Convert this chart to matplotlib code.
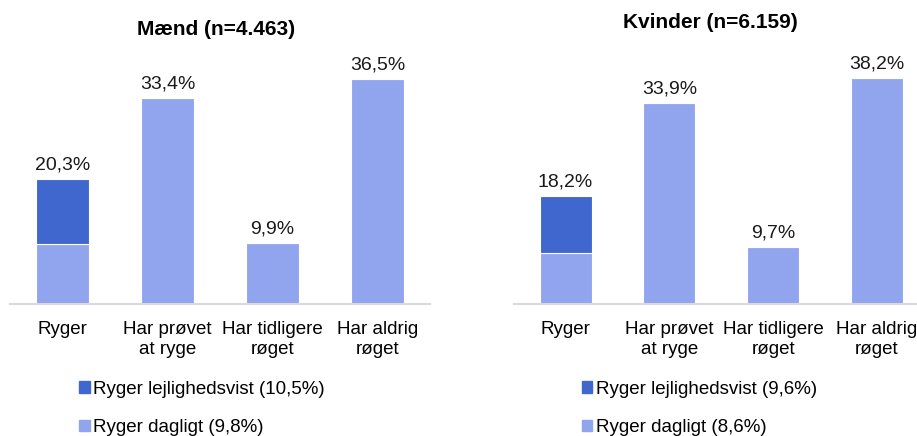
import matplotlib.pyplot as plt
from matplotlib.patches import Patch

plt.rcParams['font.family'] = ['Liberation Sans', 'DejaVu Sans']

categories = ['Ryger', 'Har prøvet\nat ryge', 'Har tidligere\nrøget', 'Har aldrig\nrøget']

# Mænd
men_daily = [9.8, 33.4, 9.9, 36.5]
men_occasional = [10.5, 0, 0, 0]
men_labels = ['20,3%', '33,4%', '9,9%', '36,5%']
men_legend = ['Ryger lejlighedsvist (10,5%)', 'Ryger dagligt (9,8%)']

# Kvinder
women_daily = [8.6, 33.9, 9.7, 38.2]
women_occasional = [9.6, 0, 0, 0]
women_labels = ['18,2%', '33,9%', '9,7%', '38,2%']
women_legend = ['Ryger lejlighedsvist (9,6%)', 'Ryger dagligt (8,6%)']

DARK = '#3F67CE'
LIGHT = '#91A5EF'


def draw_panel(ax, daily, occasional, labels, title, legend_labels, ymax, title_xy):
    x = range(len(categories))
    ax.bar(x, daily, 0.5, color=LIGHT, edgecolor='white', linewidth=0.8)
    ax.bar(x, occasional, 0.5, bottom=daily, color=DARK,
           edgecolor='white', linewidth=0.8)
    for i, lab in enumerate(labels):
        top = daily[i] + occasional[i]
        ax.annotate(lab, (i, top), xytext=(0, 4), textcoords='offset points',
                    ha='center', va='bottom', fontsize=14, color='#1a1a1a')
    ax.set_xlim(-0.5, 3.5)
    ax.set_ylim(0, ymax)
    ax.set_xticks(list(x))
    ax.set_xticklabels(categories, fontsize=13.5, linespacing=1.2)
    ax.tick_params(axis='x', length=0, pad=12.5)
    ax.set_yticks([])
    for s in ('top', 'right', 'left'):
        ax.spines[s].set_visible(False)
    ax.spines['bottom'].set_color('#D9D9D9')
    ax.spines['bottom'].set_linewidth(1.5)
    ax.text(title_xy[0], title_xy[1], title, transform=ax.transAxes,
            ha='center', va='baseline', fontsize=15, fontweight='bold')
    handles = [Patch(color=DARK), Patch(color=LIGHT)]
    ax.legend(handles, legend_labels, loc='upper left',
              bbox_to_anchor=(0.165, -0.29), frameon=False, fontsize=13.5,
              handlelength=0.55, handleheight=0.55, handletextpad=0.2,
              labelspacing=1.15, borderpad=0, borderaxespad=0)


fig = plt.figure(figsize=(9.17, 4.36), dpi=100)
ax1 = fig.add_axes([0.0109, 0.3028, 0.458, 0.6055])
ax2 = fig.add_axes([0.5602, 0.3028, 0.4526, 0.6055])

draw_panel(ax1, men_daily, men_occasional, men_labels, 'Mænd (n=4.463)',
           men_legend, 42.9, (0.49, 1.018))
draw_panel(ax2, women_daily, women_occasional, women_labels,
           'Kvinder (n=6.159)', women_legend, 44.6, (0.473, 1.045))

fig.savefig('out.png', dpi=100)
